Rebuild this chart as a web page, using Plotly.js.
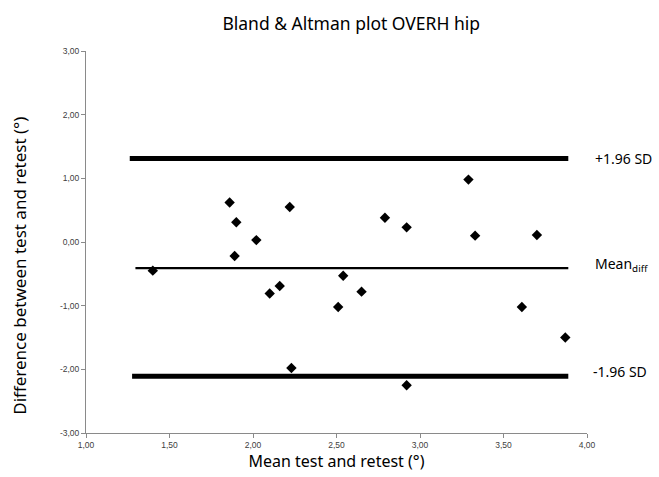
<!DOCTYPE html>
<html>
<head>
<meta charset="utf-8">
<script src="https://cdn.plot.ly/plotly-3.0.1.min.js"></script>
<style>html,body{margin:0;padding:0;background:#fff;}#chart{width:659px;height:477px;}</style>
</head>
<body>
<div id="chart"></div>
<script>
// Data
const meanTestRetest = [1.40, 1.86, 1.90, 1.89, 2.02, 2.10, 2.16, 2.22, 2.23, 2.51, 2.54, 2.65, 2.79, 2.92, 2.92, 3.29, 3.33, 3.61, 3.70, 3.87];
const diffTestRetest = [-0.45, 0.62, 0.31, -0.22, 0.03, -0.81, -0.69, 0.55, -1.98, -1.02, -0.53, -0.78, 0.38, 0.23, -2.25, 0.98, 0.10, -1.02, 0.11, -1.50];

const meanDiff = -0.41;
const upperLoA = 1.31;
const lowerLoA = -2.11;
const lineXStart = [1.262, 1.296, 1.276]; // upper, mean, lower
const lineXEnd = 3.888;

const xTickVals = [1.0, 1.5, 2.0, 2.5, 3.0, 3.5, 4.0];
const xTickText = ["1,00", "1,50", "2,00", "2,50", "3,00", "3,50", "4,00"];
const yTickVals = [-3, -2, -1, 0, 1, 2, 3];
const yTickText = ["-3,00", "-2,00", "-1,00", "0,00", "1,00", "2,00", "3,00"];

const lineLabels = ["+1.96 SD", "Mean<sub>diff</sub>", "-1.96 SD"];
const yTitleText = "Difference between test and retest (°)";

const traces = [
  {x: [lineXStart[0], lineXEnd], y: [upperLoA, upperLoA], mode: 'lines', line: {color: '#000', width: 5}, hoverinfo: 'skip'},
  {x: [lineXStart[1], lineXEnd], y: [meanDiff, meanDiff], mode: 'lines', line: {color: '#000', width: 2.2}, hoverinfo: 'skip'},
  {x: [lineXStart[2], lineXEnd], y: [lowerLoA, lowerLoA], mode: 'lines', line: {color: '#000', width: 5}, hoverinfo: 'skip'},
  {x: meanTestRetest, y: diffTestRetest, mode: 'markers', marker: {symbol: 'diamond', size: 8, color: '#000'}}
];

const sansFam = 'Noto Sans, Open Sans, sans-serif';
const labelFont = {family: sansFam, size: 14, color: '#000'};
const layout = {
  width: 659, height: 477,
  margin: {l: 86, r: 72, t: 51, b: 44},
  paper_bgcolor: '#fff', plot_bgcolor: '#fff',
  showlegend: false,
  title: {text: 'Bland &amp; Altman plot OVERH hip', x: 0.533, xanchor: 'center', y: 0.95, yanchor: 'middle',
          font: {family: sansFam, size: 17.5, color: '#000'}},
  xaxis: {
    range: [1, 4], tickvals: xTickVals, ticktext: xTickText,
    showgrid: false, zeroline: false, showline: true, linecolor: '#8a8a8a', linewidth: 1,
    ticks: 'outside', ticklen: 4, tickcolor: '#8a8a8a',
    tickfont: {family: 'Arial, Liberation Sans, sans-serif', size: 8.5, color: '#404040'},
    title: {text: 'Mean test and retest (°)', standoff: 5, font: {family: sansFam, size: 16, color: '#000'}}
  },
  yaxis: {
    range: [-3, 3], tickvals: yTickVals, ticktext: yTickText,
    showgrid: false, zeroline: false, showline: true, linecolor: '#8a8a8a', linewidth: 1,
    ticks: 'outside', ticklen: 4, tickcolor: '#8a8a8a',
    tickfont: {family: 'Arial, Liberation Sans, sans-serif', size: 8.5, color: '#404040'}
  },
  annotations: [
    {xref: 'paper', yref: 'paper', x: -0.132, y: 0.4375, text: yTitleText, textangle: -90, showarrow: false,
     xanchor: 'center', yanchor: 'middle', font: {family: sansFam, size: 17, color: '#000'}},
    {xref: 'paper', yref: 'y', x: 1.012, y: upperLoA, text: lineLabels[0], showarrow: false, xanchor: 'left', yanchor: 'middle', font: labelFont},
    {xref: 'paper', yref: 'y', x: 1.012, y: meanDiff + 0.05, text: lineLabels[1], showarrow: false, xanchor: 'left', yanchor: 'middle', font: labelFont},
    {xref: 'paper', yref: 'y', x: 1.008, y: lowerLoA + 0.07, text: lineLabels[2], showarrow: false, xanchor: 'left', yanchor: 'middle', font: labelFont}
  ]
};

Plotly.newPlot('chart', traces, layout, {displayModeBar: false, staticPlot: true});
</script>
</body>
</html>
